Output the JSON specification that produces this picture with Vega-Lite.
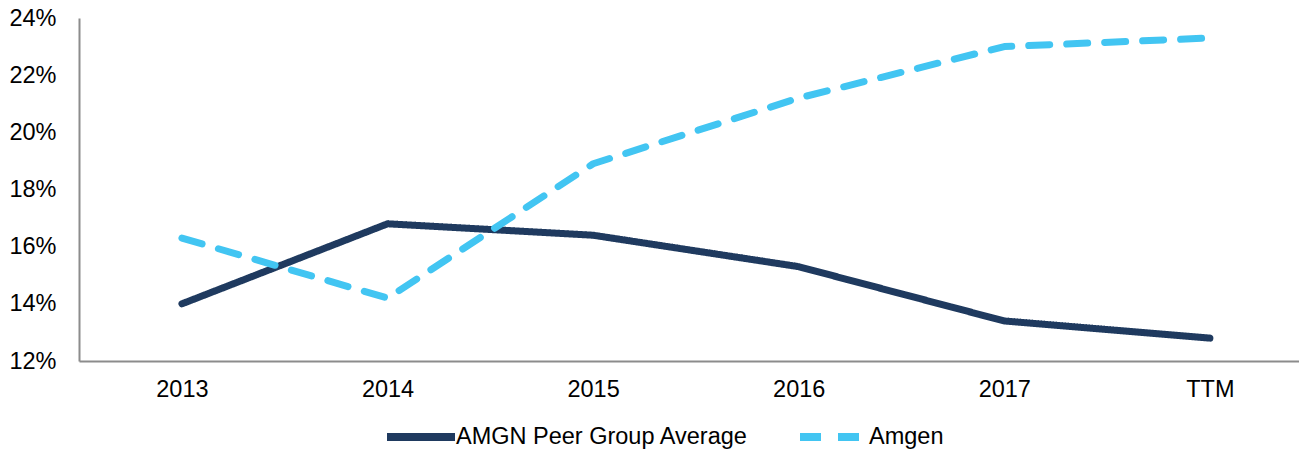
{
  "$schema": "https://vega.github.io/schema/vega-lite/v6.json",
  "width": 1220,
  "height": 343,
  "autosize": {"type": "none"},
  "padding": {"left": 79, "top": 18, "right": 0, "bottom": 89},
  "config": {
    "view": {"stroke": null},
    "font": "Liberation Sans",
    "axis": {"grid": false, "ticks": false, "domainColor": "#8c8c8c", "domainWidth": 2, "labelColor": "#000000", "labelFontSize": 23.5, "labelFont": "Liberation Sans", "title": null}
  },
  "data": {
    "values": [
      {"period": "2013", "series": "AMGN Peer Group Average", "value": 0.140},
      {"period": "2014", "series": "AMGN Peer Group Average", "value": 0.168},
      {"period": "2015", "series": "AMGN Peer Group Average", "value": 0.164},
      {"period": "2016", "series": "AMGN Peer Group Average", "value": 0.153},
      {"period": "2017", "series": "AMGN Peer Group Average", "value": 0.134},
      {"period": "TTM", "series": "AMGN Peer Group Average", "value": 0.128},
      {"period": "2013", "series": "Amgen", "value": 0.163},
      {"period": "2014", "series": "Amgen", "value": 0.142},
      {"period": "2015", "series": "Amgen", "value": 0.189},
      {"period": "2016", "series": "Amgen", "value": 0.212},
      {"period": "2017", "series": "Amgen", "value": 0.230},
      {"period": "TTM", "series": "Amgen", "value": 0.233}
    ]
  },
  "mark": {"type": "line", "strokeWidth": 7, "strokeCap": "round", "strokeJoin": "round"},
  "encoding": {
    "x": {
      "field": "period",
      "type": "ordinal",
      "sort": ["2013", "2014", "2015", "2016", "2017", "TTM"],
      "scale": {"type": "point", "padding": 0.467, "align": 0.536},
      "axis": {"labelAngle": 0, "labelPadding": 16}
    },
    "y": {
      "field": "value",
      "type": "quantitative",
      "scale": {"domain": [0.12, 0.24], "nice": false, "zero": false},
      "axis": {"format": ".0%", "values": [0.12, 0.14, 0.16, 0.18, 0.20, 0.22, 0.24], "labelPadding": 23}
    },
    "color": {
      "field": "series",
      "type": "nominal",
      "scale": {"domain": ["AMGN Peer Group Average", "Amgen"], "range": ["#1f3a5f", "#42c5f2"]},
      "legend": {
        "title": null,
        "orient": "none",
        "legendX": 304,
        "legendY": 381,
        "direction": "horizontal",
        "symbolType": "stroke",
        "symbolSize": 4624,
        "symbolStrokeWidth": 8,
        "labelFontSize": 23.5,
        "labelColor": "#000000",
        "labelFont": "Liberation Sans",
        "labelLimit": 0,
        "labelOffset": -3,
        "columnPadding": 35,
        "padding": 0,
        "encoding": {"symbols": {"enter": {"strokeCap": {"value": "round"}}, "update": {"strokeCap": {"value": "round"}}}}
      }
    },
    "strokeDash": {
      "field": "series",
      "type": "nominal",
      "scale": {"domain": ["AMGN Peer Group Average", "Amgen"], "range": [[1, 0], [21, 17]]}
    }
  }
}
